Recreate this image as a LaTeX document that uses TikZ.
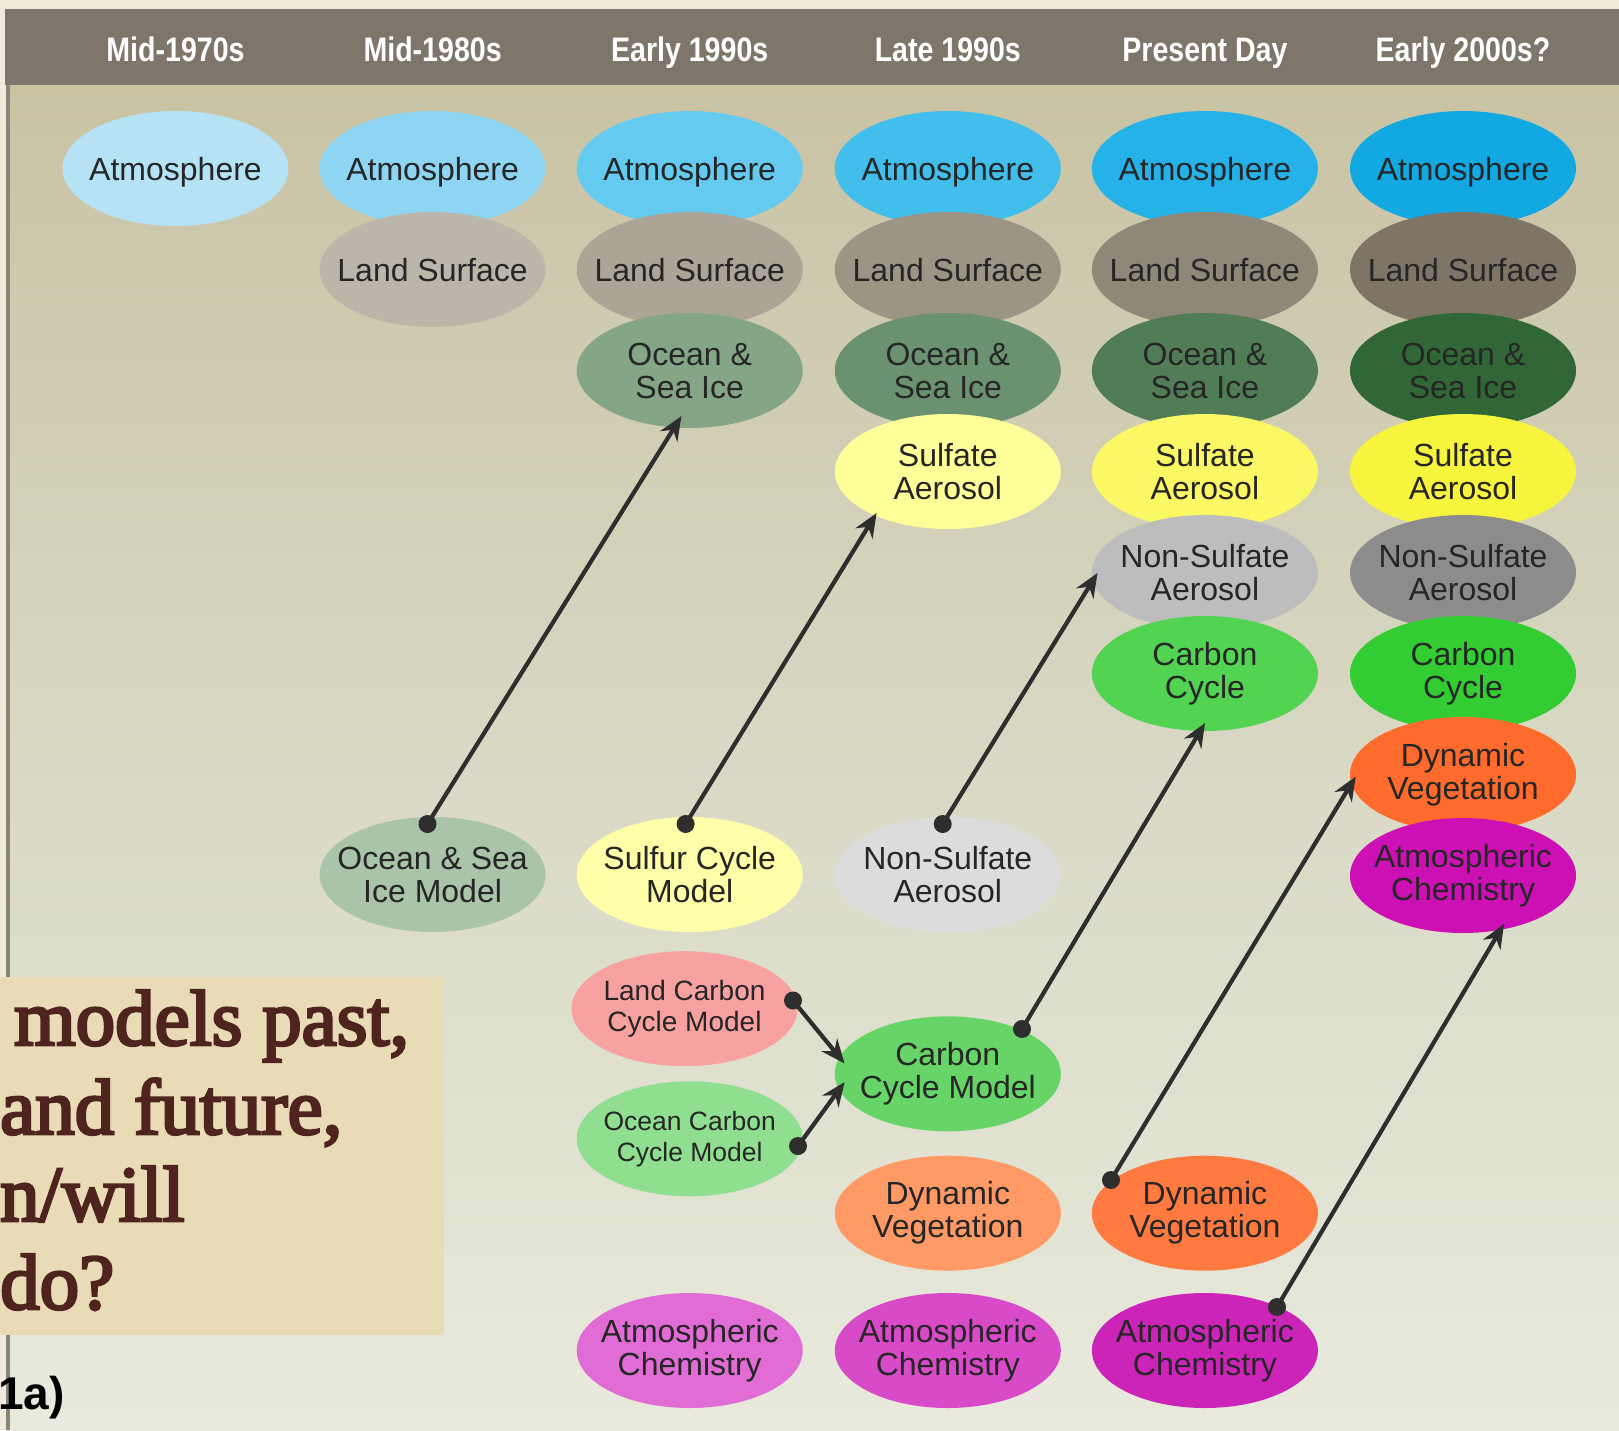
\documentclass[tikz,border=0pt]{standalone}
\usepackage{fontspec}
\setmainfont{Liberation Sans}
\newfontfamily\hdrfont[FakeStretch=0.84]{Liberation Sans}
\newfontfamily\serfont[FakeBold=3.5]{Liberation Serif}
\usetikzlibrary{shapes.geometric,calc,arrows.meta}
\definecolor{cream}{HTML}{F0EBDC}
\definecolor{barc}{HTML}{7E766A}
\definecolor{panTop}{HTML}{C9C3A4}
\definecolor{panMid}{HTML}{D8D8C4}
\definecolor{panBot}{HTML}{E9E9DD}
\definecolor{edgec}{HTML}{8B8377}
\definecolor{txt}{HTML}{262626}
\definecolor{arrowc}{HTML}{2E2E2E}
\definecolor{boxc}{HTML}{E8DBB6}
\definecolor{boxtxt}{HTML}{4F241F}
% atmosphere
\definecolor{atmA}{HTML}{B5E3F5}\definecolor{atmB}{HTML}{8ED5F3}\definecolor{atmC}{HTML}{64CAF0}
\definecolor{atmD}{HTML}{42BEEC}\definecolor{atmE}{HTML}{25B2E8}\definecolor{atmF}{HTML}{12A8E2}
% land
\definecolor{lndB}{HTML}{BCB5AA}\definecolor{lndC}{HTML}{ACA597}\definecolor{lndD}{HTML}{9C9485}
\definecolor{lndE}{HTML}{8F8777}\definecolor{lndF}{HTML}{7E7566}
% ocean
\definecolor{ocnC}{HTML}{85A686}\definecolor{ocnD}{HTML}{6A9270}\definecolor{ocnE}{HTML}{507D56}\definecolor{ocnF}{HTML}{316636}
% sulfate
\definecolor{sulD}{HTML}{FFFF99}\definecolor{sulE}{HTML}{FBF866}\definecolor{sulF}{HTML}{F6F43C}
% non-sulfate
\definecolor{nsuE}{HTML}{BDBDBD}\definecolor{nsuF}{HTML}{8C8C8C}
% carbon
\definecolor{carE}{HTML}{52D352}\definecolor{carF}{HTML}{33CC33}
% veg / chem
\definecolor{vegD}{HTML}{FF9A66}\definecolor{vegE}{HTML}{FF7A40}\definecolor{vegF}{HTML}{FF6B2C}
\definecolor{chmC}{HTML}{E26CD6}\definecolor{chmD}{HTML}{D94AC9}\definecolor{chmE}{HTML}{CC24B8}\definecolor{chmF}{HTML}{CC10B4}
% lower models
\definecolor{osmc}{HTML}{A9C4A9}\definecolor{scmc}{HTML}{FFFFAA}\definecolor{nsac}{HTML}{DCDCDC}
\definecolor{lcmc}{HTML}{F8A1A1}\definecolor{ocmc}{HTML}{90DF90}\definecolor{ccmc}{HTML}{66D466}

\begin{document}
\begin{tikzpicture}[x=1pt,y=-1pt,
  oval/.style={ellipse, minimum width=226pt, minimum height=115pt, inner sep=-40pt,
    fill=#1, text=txt, align=center, font=\fontsize{32}{33}\selectfont},
  one/.style={text height=23pt, text depth=0pt},
  hdr/.style={anchor=base, text=white, font=\hdrfont\bfseries\fontsize{34}{34}\selectfont},
  conn/.style={draw=arrowc, line width=4.2pt, -{Stealth[length=24pt,width=20pt]}},
  boxline/.style={anchor=base west, inner sep=0pt, text=boxtxt,
    font=\serfont\fontsize{79}{88}\selectfont}
]
\useasboundingbox (0,0) rectangle (1619,1430);
% background
\fill[cream] (0,0) rectangle (1619,1430);
\shade[top color=panTop, bottom color=panBot, middle color=panMid] (7,85) rectangle (1619,1430);
\fill[edgec] (6,85) rectangle (10,1430);
\fill[barc] (5,9) rectangle (1619,85);

% headers
\node[hdr] (h1) at (175.5,61) {Mid-1970s};
\node[hdr] (h2) at (432.6,61) {Mid-1980s};
\node[hdr] (h3) at (689.7,61) {Early 1990s};
\node[hdr] (h4) at (947.8,61) {Late 1990s};
\node[hdr] (h5) at (1204.9,61) {Present Day};
\node[hdr] (h6) at (1463,61) {Early 2000s?};

% row 1 atmosphere
\node[oval=atmA, one] (a1) at (175.5,168.5) {Atmosphere};
\node[oval=atmB, one] (a2) at (432.6,168.5) {Atmosphere};
\node[oval=atmC, one] (a3) at (689.7,168.5) {Atmosphere};
\node[oval=atmD, one] (a4) at (947.8,168.5) {Atmosphere};
\node[oval=atmE, one] (a5) at (1204.9,168.5) {Atmosphere};
\node[oval=atmF, one] (a6) at (1463,168.5) {Atmosphere};
% row 2 land
\node[oval=lndB, one] (l2) at (432.6,269.5) {Land Surface};
\node[oval=lndC, one] (l3) at (689.7,269.5) {Land Surface};
\node[oval=lndD, one] (l4) at (947.8,269.5) {Land Surface};
\node[oval=lndE, one] (l5) at (1204.9,269.5) {Land Surface};
\node[oval=lndF, one] (l6) at (1463,269.5) {Land Surface};
% row 3 ocean
\node[oval=ocnC] (o3) at (689.7,370.5) {Ocean \&\\Sea Ice};
\node[oval=ocnD] (o4) at (947.8,370.5) {Ocean \&\\Sea Ice};
\node[oval=ocnE] (o5) at (1204.9,370.5) {Ocean \&\\Sea Ice};
\node[oval=ocnF] (o6) at (1463,370.5) {Ocean \&\\Sea Ice};
% row 4 sulfate
\node[oval=sulD] (s4) at (947.8,471.5) {Sulfate\\Aerosol};
\node[oval=sulE] (s5) at (1204.9,471.5) {Sulfate\\Aerosol};
\node[oval=sulF] (s6) at (1463,471.5) {Sulfate\\Aerosol};
% row 5 non-sulfate
\node[oval=nsuE] (n5) at (1204.9,572.5) {Non-Sulfate\\Aerosol};
\node[oval=nsuF] (n6) at (1463,572.5) {Non-Sulfate\\Aerosol};
% row 6 carbon
\node[oval=carE] (c5) at (1204.9,673.5) {Carbon\\Cycle};
\node[oval=carF] (c6) at (1463,673.5) {Carbon\\Cycle};
% row 7-8
\node[oval=vegF] (v6) at (1463,774.5) {Dynamic\\Vegetation};
\node[oval=chmF] (x6) at (1463,875.5) {Atmospheric\\Chemistry};

% lower component models
\node[oval=osmc] (osm) at (432.6,874.5) {Ocean \& Sea\\Ice Model};
\node[oval=scmc] (scm) at (689.7,874.5) {Sulfur Cycle\\Model};
\node[oval=nsac] (nsa) at (947.8,874.5) {Non-Sulfate\\Aerosol};
\node[oval=lcmc, font=\fontsize{28}{31}\selectfont] (lcm) at (684.5,1008.7) {Land Carbon\\Cycle Model};
\node[oval=ocmc, font=\fontsize{26.5}{31}\selectfont] (ocm) at (689.7,1138.8) {Ocean Carbon\\Cycle Model};
\node[oval=ccmc] (ccm) at (947.8,1073.8) {Carbon\\Cycle Model};
\node[oval=vegD] (dv4) at (947.8,1213.2) {Dynamic\\Vegetation};
\node[oval=vegE] (dv5) at (1204.9,1213.2) {Dynamic\\Vegetation};
\node[oval=chmC] (ac3) at (689.7,1350.5) {Atmospheric\\Chemistry};
\node[oval=chmD] (ac4) at (947.8,1350.5) {Atmospheric\\Chemistry};
\node[oval=chmE] (ac5) at (1204.9,1350.5) {Atmospheric\\Chemistry};

% connector end points
\coordinate (d1) at ($(osm.center)+(-5.1,-50.5)$);
\coordinate (t1) at ($(o3.center)+(-8.2,45.5)$);
\coordinate (d2) at ($(scm.center)+(-4.1,-50.5)$);
\coordinate (t2) at ($(s4.center)+(-71.2,41.5)$);
\coordinate (d3) at ($(nsa.center)+(-5.1,-50.5)$);
\coordinate (t3) at ($(n5.center)+(-107.4,0.5)$);
\coordinate (d4) at ($(ccm.center)+(74.2,-44.8)$);
\coordinate (t4) at ($(c5.center)+(0.1,49.5)$);
\coordinate (d5) at ($(lcm.center)+(108.5,-8.2)$);
\coordinate (t5) at ($(ccm.center)+(-103.2,-10.3)$);
\coordinate (d6) at ($(ocm.center)+(108.3,7.2)$);
\coordinate (t6) at ($(ccm.center)+(-103.2,8.2)$);
\coordinate (d7) at ($(dv5.center)+(-93.9,-33.2)$);
\coordinate (t7) at ($(v6.center)+(-107.3,2)$);
\coordinate (d8) at ($(ac5.center)+(72.1,-43.5)$);
\coordinate (t8) at ($(x6.center)+(41,48.5)$);

\foreach \i in {1,...,8}{
  \draw[conn] (d\i) -- (t\i);
  \fill[arrowc] (d\i) circle (9pt);
}

% text box
\fill[boxc] (0,977) rectangle (444,1335);
\node[boxline] (q1) at (14,1045) {models past,};
\node[boxline] (q2) at (0,1134) {and future,};
\node[boxline] (q3) at (0,1221) {n/will};
\node[boxline] (q4) at (0,1309) {do?};

\node[anchor=base west, inner sep=0pt, text=black, font=\bfseries\fontsize{46}{46}\selectfont] (lab) at (-2,1409) {1a)};
\end{tikzpicture}
\end{document}
